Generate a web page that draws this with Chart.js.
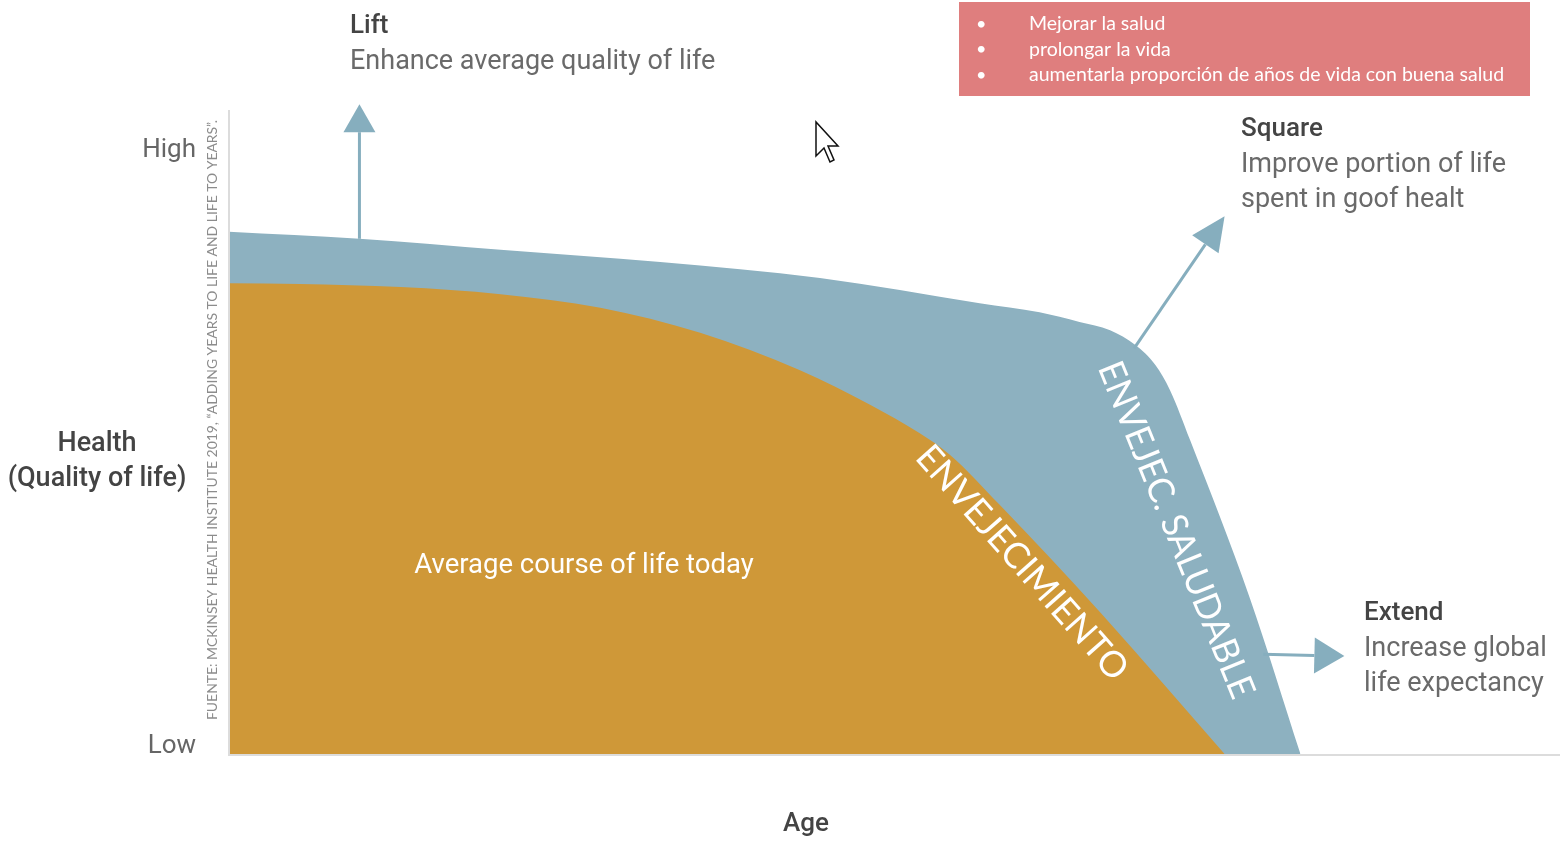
<!DOCTYPE html>
<html>
<head>
<meta charset="utf-8">
<script src="https://cdn.jsdelivr.net/npm/chart.js@4.4.0/dist/chart.umd.min.js"></script>
<style>
  html, body { margin: 0; padding: 0; background: #fff; }
</style>
</head>
<body>
<canvas id="lifeChart" width="1560" height="841"></canvas>
<script>
// age runs 0..100 (no ticks), health runs 0..100
const healthyAge   = [0, 9.8, 20.4, 32.4, 44.4, 56.4, 60.9, 63.9, 66.2, 68.1, 69.6, 70.7, 72.2, 76.7, 80.5];
const healthyValue = [81.1, 80.0, 78.3, 76.4, 73.9, 70.0, 68.6, 67.1, 65.8, 63.5, 60.4, 56.5, 48.8, 24.2, 0];
const averageAge   = [0, 5.3, 12.9, 20.4, 27.9, 35.4, 42.9, 48.2, 51.9, 54.2, 57.9, 65.5, 74.8];
const averageValue = [73.1, 73.0, 72.5, 71.4, 69.3, 65.4, 59.6, 54.2, 49.8, 46.4, 38.7, 21.9, 0];

const yTickValues = [1.5, 94];
const yTickLabels = ['Low', 'High'];
const goals = ['Mejorar la salud', 'prolongar la vida', 'aumentarla proporción de años de vida con buena salud'];

const BLUE = '#8DB1C0';
const ORANGE = '#CF9838';
const ARROW = '#86AEBE';

function toPoints(xs, ys) {
    return xs.map((v, i) => ({ x: v, y: ys[i] }));
}

function arrow(ctx, x0, y0, x1, y1, len, half) {
    const ang = Math.atan2(y1 - y0, x1 - x0);
    const bx = x1 - Math.cos(ang) * len, by = y1 - Math.sin(ang) * len;
    ctx.strokeStyle = ARROW;
    ctx.fillStyle = ARROW;
    ctx.lineWidth = 3;
    ctx.beginPath();
    ctx.moveTo(x0, y0);
    ctx.lineTo(bx, by);
    ctx.stroke();
    ctx.beginPath();
    ctx.moveTo(x1, y1);
    ctx.lineTo(bx + Math.sin(ang) * half, by - Math.cos(ang) * half);
    ctx.lineTo(bx - Math.sin(ang) * half, by + Math.cos(ang) * half);
    ctx.closePath();
    ctx.fill();
}

function rotatedText(ctx, text, cx, cy, deg, font, len) {
    ctx.save();
    ctx.font = font;
    const w = ctx.measureText(text).width;
    ctx.translate(cx, cy);
    ctx.rotate(deg * Math.PI / 180);
    ctx.scale(len / w, 1);
    ctx.textAlign = 'center';
    ctx.textBaseline = 'middle';
    ctx.fillText(text, 0, 0);
    ctx.restore();
}

const annotate = {
    id: 'annotate',
    afterDraw(chart) {
        const { ctx, chartArea: a, scales: { x, y } } = chart;
        ctx.save();

        // axes
        ctx.strokeStyle = '#dcdcdc';
        ctx.lineWidth = 2;
        ctx.beginPath();
        ctx.moveTo(a.left, a.top);
        ctx.lineTo(a.left, a.bottom + 1);
        ctx.lineTo(a.right, a.bottom + 1);
        ctx.stroke();

        // y labels
        ctx.fillStyle = '#666';
        ctx.font = '26px Roboto';
        ctx.textAlign = 'right';
        ctx.textBaseline = 'middle';
        yTickValues.forEach((v, i) => ctx.fillText(yTickLabels[i], 196, y.getPixelForValue(v) + 2));

        ctx.fillStyle = '#444';
        ctx.textAlign = 'center';
        ctx.font = '500 27px Roboto';
        ctx.fillText('Health', 97, 444);
        ctx.fillText('(Quality of life)', 97, 479);
        ctx.font = '500 26px Roboto';
        ctx.fillText('Age', 806, 824);

        // source note
        ctx.fillStyle = '#8c8c8c';
        rotatedText(ctx, 'FUENTE: MCKINSEY HEALTH INSTITUTE 2019, \u201CADDING YEARS TO LIFE AND LIFE TO YEARS\u201D.',
            212, 420, -90, '14px Lato', 600);

        // arrows
        arrow(ctx, x.getPixelForValue(healthyAge[1]), y.getPixelForValue(healthyValue[1]),
            x.getPixelForValue(9.8), y.getPixelForValue(100.9), 28, 16);
        arrow(ctx, x.getPixelForValue(68), y.getPixelForValue(63),
            x.getPixelForValue(74.8), y.getPixelForValue(83.5), 34, 16);
        arrow(ctx, x.getPixelForValue(77.7), y.getPixelForValue(15.5),
            x.getPixelForValue(83.8), y.getPixelForValue(15.2), 30, 18);

        // callouts
        ctx.textAlign = 'left';
        const callouts = [
            [350, 26, 'Lift', ['Enhance average quality of life']],
            [1241, 129, 'Square', ['Improve portion of life', 'spent in goof healt']],
            [1364, 613, 'Extend', ['Increase global', 'life expectancy']]
        ];
        callouts.forEach(([cx, cy, head, lines]) => {
            ctx.fillStyle = '#444';
            ctx.font = '500 26px Roboto';
            ctx.fillText(head, cx, cy);
            ctx.fillStyle = '#6a6a6a';
            ctx.font = '27px Roboto';
            lines.forEach((l, i) => ctx.fillText(l, cx, cy + 36 + i * 35));
        });

        // area labels
        ctx.fillStyle = '#fff';
        ctx.textAlign = 'center';
        ctx.font = '27.5px Roboto';
        ctx.fillText('Average course of life today', 584, 566);
        rotatedText(ctx, 'ENVEJECIMIENTO', 1022, 563, 48.5, '36px Lato', 300);
        rotatedText(ctx, 'ENVEJEC. SALUDABLE', 1176, 530, 67.9, '36px Lato', 360);

        // goals box
        ctx.fillStyle = '#DF7E7E';
        ctx.fillRect(959, 2, 571, 94);
        ctx.fillStyle = '#fff';
        ctx.textAlign = 'left';
        goals.forEach((g, i) => {
            const gy = 24 + i * 25.5;
            ctx.font = '18px Lato';
            ctx.fillText('\u2022', 976, gy);
            ctx.font = '19.5px Lato';
            ctx.fillText(g, 1029, gy);
        });

        // mouse pointer
        const cur = [[0, 0], [0, 17], [4, 13], [7, 20], [9, 19], [6, 12], [11, 12]];
        ctx.beginPath();
        cur.forEach(([px, py], i) => {
            const X = 816 + px * 2, Y = 122 + py * 2;
            if (i === 0) ctx.moveTo(X, Y); else ctx.lineTo(X, Y);
        });
        ctx.closePath();
        ctx.fillStyle = '#fff';
        ctx.fill();
        ctx.strokeStyle = '#111';
        ctx.lineWidth = 1.5;
        ctx.stroke();

        ctx.restore();
    }
};

const ctx = document.getElementById('lifeChart').getContext('2d');
new Chart(ctx, {
    type: 'line',
    data: {
        datasets: [{
            label: 'Average course of life today',
            data: toPoints(averageAge, averageValue),
            fill: 'origin',
            backgroundColor: ORANGE,
            borderWidth: 0,
            pointRadius: 0,
            cubicInterpolationMode: 'monotone'
        }, {
            label: 'Envejec. saludable',
            data: toPoints(healthyAge, healthyValue),
            fill: 'origin',
            backgroundColor: BLUE,
            borderWidth: 0,
            pointRadius: 0,
            cubicInterpolationMode: 'monotone'
        }]
    },
    options: {
        responsive: false,
        animation: false,
        devicePixelRatio: 1,
        layout: { padding: { left: 229, top: 110, right: 0, bottom: 87 } },
        plugins: {
            legend: { display: false },
            tooltip: { enabled: false }
        },
        scales: {
            x: { type: 'linear', min: 0, max: 100, display: false },
            y: { min: 0, max: 100, display: false }
        }
    },
    plugins: [annotate]
});
</script>
</body>
</html>
